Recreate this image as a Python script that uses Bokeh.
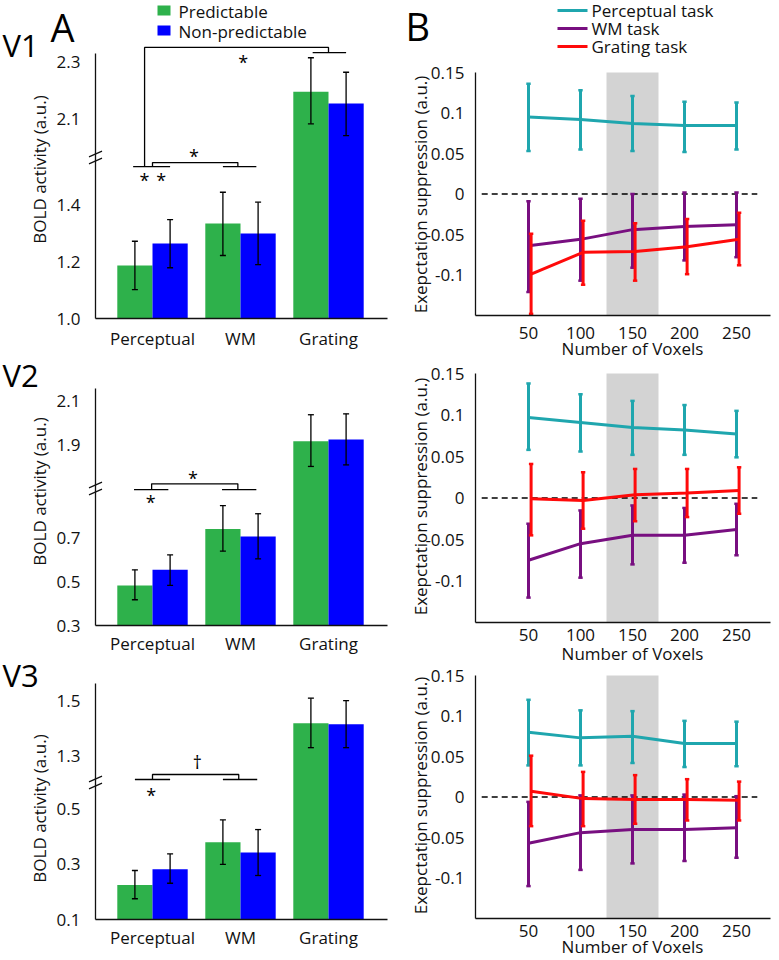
import math
from bokeh.plotting import figure
from bokeh.models import Range1d, LinearAxis, FixedTicker, CustomJSTickFormatter
from bokeh.core.properties import value
from bokeh.embed import file_html
from bokeh.resources import INLINE

FONT = "Open Sans"
GREEN = "#2EB14B"
BLUE = "#0000FF"
CYAN = "#1FA6AE"
PURPLE = "#780F80"
RED = "#FF0A0A"
GRAY = "#D3D3D3"
INK = "#111111"

# ---------------- data: panel A (BOLD activity) ----------------
groups = ["Perceptual", "WM", "Grating"]

v1_pred = [1.186, 1.333, 2.196]
v1_pred_lo = [1.101, 1.221, 2.083]
v1_pred_hi = [1.271, 1.443, 2.315]
v1_nonpred = [1.263, 1.298, 2.154]
v1_nonpred_lo = [1.178, 1.189, 2.042]
v1_nonpred_hi = [1.347, 1.408, 2.264]

v2_pred = [0.482, 0.739, 1.918]
v2_pred_lo = [0.417, 0.638, 1.803]
v2_pred_hi = [0.553, 0.845, 2.038]
v2_nonpred = [0.553, 0.705, 1.925]
v2_nonpred_lo = [0.482, 0.603, 1.810]
v2_nonpred_hi = [0.621, 0.808, 2.042]

v3_pred = [0.225, 0.379, 1.419]
v3_pred_lo = [0.175, 0.299, 1.331]
v3_pred_hi = [0.277, 0.460, 1.510]
v3_nonpred = [0.282, 0.342, 1.416]
v3_nonpred_lo = [0.231, 0.259, 1.331]
v3_nonpred_hi = [0.337, 0.425, 1.501]

v1_ticks = [1.0, 1.2, 1.4, 2.1, 2.3]
v2_ticks = [0.3, 0.5, 0.7, 1.9, 2.1]
v3_ticks = [0.1, 0.3, 0.5, 1.3, 1.5]

# ---------------- data: panel B (expectation suppression) ----------------
voxels = [50, 100, 150, 200, 250]
highlight = [125, 175]
supp_ticks = [-0.1, -0.05, 0, 0.05, 0.1, 0.15]
supp_labels = ["-0.1", "-0.05", "0", "0.05", "0.1", "0.15"]

v1_perc = [0.095, 0.092, 0.087, 0.0845, 0.0845]
v1_perc_lo = [0.053, 0.055, 0.053, 0.052, 0.055]
v1_perc_hi = [0.136, 0.128, 0.121, 0.114, 0.113]
v1_wm = [-0.064, -0.056, -0.044, -0.040, -0.038]
v1_wm_lo = [-0.121, -0.107, -0.091, -0.082, -0.078]
v1_wm_hi = [-0.009, -0.006, 0.0, 0.002, 0.002]
v1_grat = [-0.099, -0.072, -0.071, -0.065, -0.056]
v1_grat_lo = [-0.148, -0.112, -0.107, -0.099, -0.088]
v1_grat_hi = [-0.049, -0.033, -0.036, -0.031, -0.023]

v2_perc = [0.097, 0.091, 0.085, 0.082, 0.077]
v2_perc_lo = [0.058, 0.056, 0.052, 0.052, 0.049]
v2_perc_hi = [0.138, 0.125, 0.117, 0.112, 0.105]
v2_wm = [-0.075, -0.055, -0.045, -0.045, -0.038]
v2_wm_lo = [-0.120, -0.096, -0.080, -0.078, -0.069]
v2_wm_hi = [-0.031, -0.015, -0.009, -0.012, -0.007]
v2_grat = [-0.001, -0.003, 0.004, 0.006, 0.009]
v2_grat_lo = [-0.045, -0.037, -0.028, -0.023, -0.019]
v2_grat_hi = [0.041, 0.031, 0.035, 0.035, 0.037]

v3_perc = [0.080, 0.073, 0.075, 0.066, 0.066]
v3_perc_lo = [0.039, 0.039, 0.042, 0.037, 0.038]
v3_perc_hi = [0.120, 0.107, 0.106, 0.094, 0.093]
v3_wm = [-0.057, -0.044, -0.040, -0.040, -0.038]
v3_wm_lo = [-0.110, -0.090, -0.082, -0.079, -0.075]
v3_wm_hi = [-0.006, 0.002, 0.002, 0.003, 0.001]
v3_grat = [0.007, -0.002, -0.003, -0.003, -0.004]
v3_grat_lo = [-0.036, -0.036, -0.033, -0.029, -0.029]
v3_grat_hi = [0.051, 0.031, 0.027, 0.022, 0.019]

# ---- significance annotations (data coordinates of each bar panel) ----
v1_group_lines = [(0.78, 1.20, 1.533), (1.80, 2.18, 1.533), (2.82, 3.20, 1.933)]
v1_brackets = [([0.91, 0.91, 3.0, 3.0], [1.533, 1.951, 1.951, 1.933]),
               ([1.0, 1.0, 1.97, 1.97], [1.533, 1.547, 1.547, 1.533])]
v1_marks = [("*", 2.03, 1.912), ("*", 1.47, 1.582), ("*", 0.91, 1.495), ("*", 1.10, 1.495)]

v2_group_lines = [(0.79, 1.18, 0.918), (1.79, 2.18, 0.918)]
v2_brackets = [([0.99, 0.99, 1.97, 1.97], [0.918, 0.944, 0.944, 0.918])]
v2_marks = [("*", 1.46, 0.982), ("*", 0.98, 0.876)]

v3_group_lines = [(0.80, 1.20, 0.606), (1.80, 2.19, 0.606)]
v3_brackets = [([1.0, 1.0, 1.98, 1.98], [0.606, 0.624, 0.624, 0.606])]
v3_marks = [("\u2020", 1.51, 0.668), ("*", 0.985, 0.56)]

TICK_JS = """
const i = pos.findIndex(p => Math.abs(p - tick) < 1e-6);
return i >= 0 ? labs[i] : "";
"""

# ---------------- one canvas, page-pixel default ranges ----------------
CX0, CY0, CW, CH = 0, 0, 776, 958
p = figure(width=CW, height=CH, x_range=Range1d(CX0, CX0 + CW),
           y_range=Range1d(CY0 + CH, CY0), x_axis_location=None, y_axis_location=None,
           title=None, min_border=0, output_backend="svg", toolbar_location=None)
p.outline_line_color = None
p.xgrid.visible = False
p.ygrid.visible = False
p.background_fill_color = "white"
p.border_fill_color = "white"


def txt(x, y, s, size="17px", align="left", angle=0.0, color=INK, xr="default", yr="default"):
    p.text(x=[x], y=[y], text=[s], text_font=value(FONT), text_font_size=size,
           text_align=align, text_baseline="middle", angle=angle, text_color=color,
           x_range_name=xr, y_range_name=yr)


def style_axis(ax, standoff):
    ax.axis_line_color = INK
    ax.axis_line_width = 1.3
    ax.major_tick_line_color = None
    ax.minor_tick_line_color = None
    ax.major_label_text_font = FONT
    ax.major_label_text_font_size = "17px"
    ax.major_label_text_color = INK
    ax.major_label_standoff = standoff


# left column geometry (page px): x-axis at 95..387, group 1 centred at 152, 88 px per group
def lx(px):
    return 1 + (px - 152) / 88.0


p.extra_x_ranges["xL"] = Range1d(lx(CX0), lx(CX0 + CW))


def rx(px):
    return (px - 476) / 1.04


p.extra_x_ranges["xR"] = Range1d(rx(CX0), rx(CX0 + CW))


def left_panel(name, y0, base_py, scale, gap, thresh, ticks, pred, pred_lo, pred_hi,
               non, non_lo, non_hi, top_py, break_py, group_lines, brackets, marks,
               x_standoff, ylabel_py):
    def ly(py):
        return y0 + (base_py - py) / scale

    def tf(v):
        return v - gap if v >= thresh else v

    yr = "y" + name
    p.extra_y_ranges[yr] = Range1d(ly(CY0 + CH), ly(CY0))
    gx = list(range(1, len(groups) + 1))
    cap = 3.0 / 88.0
    for vals, lo, hi, dx, col in ((pred, pred_lo, pred_hi, -0.2, GREEN),
                                  (non, non_lo, non_hi, 0.2, BLUE)):
        xs = [g + dx for g in gx]
        p.vbar(x=xs, top=[tf(v) for v in vals], bottom=y0, width=0.4, fill_color=col,
               line_color=None, x_range_name="xL", y_range_name=yr)
        los = [tf(v) for v in lo]
        his = [tf(v) for v in hi]
        p.segment(x0=xs, y0=los, x1=xs, y1=his, line_color="black", line_width=1.3,
                  x_range_name="xL", y_range_name=yr)
        for ys in (los, his):
            p.segment(x0=[x - cap for x in xs], y0=ys, x1=[x + cap for x in xs], y1=ys,
                      line_color="black", line_width=1.3, x_range_name="xL", y_range_name=yr)

    pos = [round(tf(t), 6) for t in ticks]
    ya = LinearAxis(x_range_name="xL", y_range_name=yr, fixed_location=lx(95),
                    bounds=(y0, ly(top_py)), ticker=FixedTicker(ticks=pos),
                    formatter=CustomJSTickFormatter(
                        args=dict(pos=pos, labs=[f"{t:.1f}" for t in ticks]), code=TICK_JS))
    style_axis(ya, 9)
    p.add_layout(ya, "left")
    xa = LinearAxis(x_range_name="xL", y_range_name=yr, fixed_location=y0,
                    bounds=(lx(95), lx(387)), ticker=FixedTicker(ticks=gx),
                    formatter=CustomJSTickFormatter(args=dict(pos=gx, labs=groups),
                                                    code=TICK_JS))
    style_axis(xa, x_standoff)
    p.add_layout(xa, "below")

    # axis-break marks
    for off in (-3.5, 3.5):
        p.segment(x0=[95 - 6.5], y0=[break_py + off + 2.8], x1=[95 + 6.5],
                  y1=[break_py + off - 2.8], line_color=INK, line_width=1.3)

    mx = [[a, b] for a, b, _ in group_lines] + [list(b[0]) for b in brackets]
    my = [[y, y] for _, _, y in group_lines] + [list(b[1]) for b in brackets]
    p.multi_line(xs=mx, ys=my, line_color="black", line_width=1.3,
                 x_range_name="xL", y_range_name=yr)
    for t, x, y in marks:
        off = 3.0 / scale if t == "*" else 0.0
        txt(x, y - off, t, size="18px", align="center", color="black", xr="xL", yr=yr)

    txt(39, ylabel_py, "BOLD activity (a.u.)", align="center", angle=math.pi / 2)


def right_panel(name, base_py, top_py, series, x_standoff, nov_py, ylabel_py):
    scale = (base_py - top_py) / 0.30

    def ry(py):
        return -0.15 + (base_py - py) / scale

    yr = "y" + name
    p.extra_y_ranges[yr] = Range1d(ry(CY0 + CH), ry(CY0))
    p.quad(left=highlight[0], right=highlight[1], top=0.15, bottom=-0.15,
           fill_color=GRAY, line_color=None, x_range_name="xR", y_range_name=yr)
    p.line(x=[voxels[0] - 45, voxels[-1] + 20], y=[0, 0], line_color="black",
           line_width=1.4, line_dash="6 4", x_range_name="xR", y_range_name=yr)
    cap = 2.2 / 1.04
    for mean, lo, hi, col, dx in series:
        x = [v + dx for v in voxels]
        p.line(x=x, y=mean, line_color=col, line_width=3, x_range_name="xR", y_range_name=yr)
        p.segment(x0=x, y0=lo, x1=x, y1=hi, line_color=col, line_width=3,
                  x_range_name="xR", y_range_name=yr)
        for ys in (lo, hi):
            p.segment(x0=[v - cap for v in x], y0=ys, x1=[v + cap for v in x], y1=ys,
                      line_color=col, line_width=2.5, x_range_name="xR", y_range_name=yr)

    ya = LinearAxis(x_range_name="xR", y_range_name=yr, fixed_location=rx(475),
                    bounds=(-0.15, 0.15), ticker=FixedTicker(ticks=supp_ticks),
                    formatter=CustomJSTickFormatter(args=dict(pos=supp_ticks, labs=supp_labels),
                                                    code=TICK_JS))
    style_axis(ya, 5)
    p.add_layout(ya, "left")
    xa = LinearAxis(x_range_name="xR", y_range_name=yr, fixed_location=-0.15,
                    bounds=(rx(475), rx(770)), ticker=FixedTicker(ticks=voxels))
    style_axis(xa, x_standoff)
    p.add_layout(xa, "below")

    txt(632, nov_py, "Number of Voxels", align="center")
    txt(420, ylabel_py, "Exepctation suppression (a.u.)", align="center", angle=math.pi / 2)


RED_DX = 2.5

left_panel("L1", 1.0, 318, 285.0, 0.40, 1.7, v1_ticks,
           v1_pred, v1_pred_lo, v1_pred_hi, v1_nonpred, v1_nonpred_lo, v1_nonpred_hi,
           53, 157, v1_group_lines, v1_brackets, v1_marks, 2, 169)
left_panel("L2", 0.3, 625, 220.0, 0.78, 1.2, v2_ticks,
           v2_pred, v2_pred_lo, v2_pred_hi, v2_nonpred, v2_nonpred_lo, v2_nonpred_hi,
           388, 488, v2_group_lines, v2_brackets, v2_marks, 0, 491)
left_panel("L3", 0.1, 919, 276.7, 0.61, 0.9, v3_ticks,
           v3_pred, v3_pred_lo, v3_pred_hi, v3_nonpred, v3_nonpred_lo, v3_nonpred_hi,
           683, 782, v3_group_lines, v3_brackets, v3_marks, 0, 808)

right_panel("R1", 315, 72,
            [(v1_perc, v1_perc_lo, v1_perc_hi, CYAN, 0),
             (v1_wm, v1_wm_lo, v1_wm_hi, PURPLE, 0),
             (v1_grat, v1_grat_lo, v1_grat_hi, RED, RED_DX)], 5, 348, 194)
right_panel("R2", 622, 373,
            [(v2_perc, v2_perc_lo, v2_perc_hi, CYAN, 0),
             (v2_wm, v2_wm_lo, v2_wm_hi, PURPLE, 0),
             (v2_grat, v2_grat_lo, v2_grat_hi, RED, RED_DX)], 0, 653, 496)
right_panel("R3", 918, 675,
            [(v3_perc, v3_perc_lo, v3_perc_hi, CYAN, 0),
             (v3_wm, v3_wm_lo, v3_wm_hi, PURPLE, 0),
             (v3_grat, v3_grat_lo, v3_grat_hi, RED, RED_DX)], 0, 946, 795)

# panel letters and region tags
txt(50, 26, "A", size="38px", color="black")
txt(405, 25, "B", size="38px", color="black")
txt(2, 44, "V1", size="31px", color="black")
txt(2, 374, "V2", size="31px", color="black")
txt(2, 674, "V3", size="31px", color="black")

# legends
bar_legend = [("Predictable", GREEN), ("Non-predictable", BLUE)]
for i, (lab, col) in enumerate(bar_legend):
    yc = 10 + 20 * i
    p.quad(left=[157], right=[170], top=[yc - 5], bottom=[yc + 5], fill_color=col,
           line_color=None)
    txt(178, yc + 1, lab)

line_legend = [("Perceptual task", CYAN), ("WM task", PURPLE), ("Grating task", RED)]
for i, (lab, col) in enumerate(line_legend):
    yc = 10 + 18 * i
    p.segment(x0=[557], y0=[yc], x1=[587], y1=[yc], line_color=col, line_width=3)
    txt(591, yc, lab)

open("out.html", "w").write(file_html(p, INLINE))
